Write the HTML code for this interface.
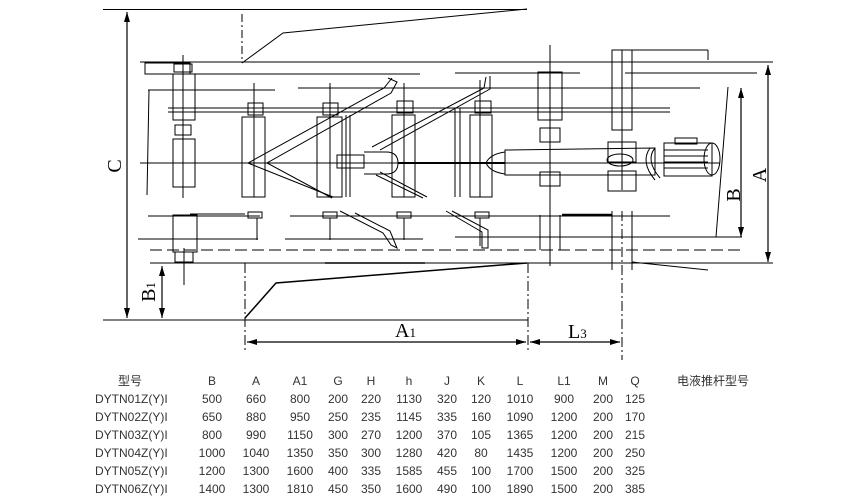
<!DOCTYPE html>
<html><head><meta charset="utf-8"><style>
body{margin:0;background:#fff;width:865px;height:496px;overflow:hidden;font-family:"Liberation Sans","Noto Sans CJK SC",sans-serif}
svg{position:absolute;left:0;top:0}
.t{font-size:12px;fill:#333}
</style></head><body>
<svg width="865" height="496" viewBox="0 0 865 496">
<defs><marker id="ar" markerWidth="10" markerHeight="6" refX="10" refY="3" orient="auto-start-reverse" markerUnits="userSpaceOnUse"><path d="M0,0 L10,3 L0,6z" fill="#000"/></marker></defs>
<g stroke="#000" stroke-width="1" fill="none">
<line x1="103" y1="9.5" x2="527" y2="9.5"/>
<polyline points="242,63 283,33 527,9"/>
<line x1="242" y1="14" x2="242" y2="63" stroke-dasharray="8,3,2,3"/>
<line x1="103" y1="320" x2="528" y2="320"/>
<polyline points="245,318 276,283 527,263" stroke-width="1.5"/>
<line x1="150" y1="263" x2="773" y2="263"/>
<line x1="140" y1="62" x2="773" y2="62"/>
<rect x="145" y="63" width="45" height="11"/>
<line x1="190" y1="74" x2="287" y2="74"/><line x1="280" y1="74" x2="420" y2="74"/>
<line x1="455" y1="73" x2="580" y2="73"/><line x1="625" y1="73" x2="757" y2="73"/>
<line x1="148" y1="90" x2="275" y2="90"/><line x1="298" y1="88" x2="700" y2="88"/>
<line x1="168" y1="108" x2="670" y2="108"/><line x1="168" y1="112" x2="670" y2="112"/>
<line x1="140" y1="163" x2="720" y2="163"/>
<line x1="148" y1="216" x2="260" y2="216"/><line x1="290" y1="216" x2="400" y2="216"/>
<line x1="400" y1="216" x2="670" y2="216"/><line x1="190" y1="214" x2="245" y2="214"/>
<line x1="138" y1="239" x2="258" y2="239"/><line x1="285" y1="239" x2="423" y2="239"/><line x1="455" y1="237" x2="742" y2="237"/>
<line x1="150" y1="250" x2="745" y2="250" stroke-dasharray="12,5"/>
<line x1="150" y1="263" x2="300" y2="263"/><line x1="325" y1="263" x2="425" y2="263" stroke-width="1.5"/>
<rect x="173" y="74" width="22" height="46"/><rect x="173" y="139" width="22" height="48"/>
<rect x="174" y="64" width="18" height="8"/><rect x="175" y="125" width="16" height="10"/>
<rect x="173" y="215" width="24" height="37"/><rect x="175" y="252" width="18" height="10"/>
<line x1="183" y1="55" x2="183" y2="198"/><line x1="184" y1="248" x2="184" y2="285"/>
<line x1="149" y1="90" x2="147" y2="195"/>
<g>
<rect x="242" y="117" width="23" height="80"/><rect x="248" y="103" width="15" height="12"/>
<rect x="317" y="117" width="25" height="80"/><rect x="323" y="103" width="15" height="12"/>
<rect x="392" y="115" width="23" height="82"/><rect x="397" y="101" width="16" height="12"/>
<rect x="470" y="115" width="22" height="82"/><rect x="475" y="101" width="16" height="12"/>
<line x1="254" y1="83" x2="254" y2="197"/><line x1="330" y1="83" x2="330" y2="197"/>
<line x1="404" y1="83" x2="404" y2="197"/><line x1="480" y1="80" x2="480" y2="197"/>
<line x1="346" y1="115" x2="346" y2="197"/><line x1="350" y1="115" x2="350" y2="197"/>
<line x1="455" y1="108" x2="455" y2="197"/><line x1="460" y1="108" x2="460" y2="197"/>
</g>
<g>
<rect x="248" y="212" width="14" height="6"/><line x1="257" y1="218" x2="257" y2="240"/>
<rect x="323" y="212" width="14" height="6"/><line x1="330" y1="218" x2="330" y2="240"/>
<rect x="397" y="212" width="14" height="6"/><line x1="404" y1="218" x2="404" y2="240"/>
<rect x="475" y="212" width="14" height="6"/><line x1="480" y1="218" x2="480" y2="246"/>
</g>
<polyline points="392,78 384,88 248,163 333,197"/>
<polyline points="388,78 397,82 391,93 267,163 332,198"/>
<polyline points="486,77 484,88 372,147"/><polyline points="490,76 490,89 380,150"/>
<polyline points="380,172 427,197"/><polyline points="376,175 423,198"/>
<polyline points="340,211 383,233 391,245 397,248 390,231 355,213"/>
<polyline points="446,211 482,232 482,248 488,248 488,230 452,211"/>
<rect x="337" y="155" width="27" height="13"/>
<path d="M364,152 H386 Q398,152 398,163 Q398,174 386,174 H364"/>
<line x1="398" y1="163" x2="505" y2="163" stroke-width="2"/>
<rect x="538" y="72" width="24" height="48"/><line x1="550" y1="45" x2="550" y2="266"/>
<rect x="540" y="128" width="20" height="14"/><rect x="540" y="172" width="20" height="14"/>
<rect x="612" y="50" width="20" height="80"/><line x1="622" y1="50" x2="622" y2="190"/>
<rect x="608" y="142" width="28" height="20"/>
<rect x="608" y="171" width="28" height="20"/>
<line x1="612" y1="211" x2="612" y2="270"/><line x1="632" y1="211" x2="632" y2="270"/>
<line x1="622" y1="211" x2="622" y2="360" stroke-dasharray="10,3,2,3"/>
<line x1="540" y1="215" x2="540" y2="250"/><line x1="560" y1="215" x2="560" y2="250"/>
<line x1="562" y1="215" x2="612" y2="215" stroke-width="2.5"/>
<line x1="632" y1="50" x2="708" y2="50"/><line x1="708" y1="50" x2="708" y2="60"/>
<line x1="632" y1="262" x2="708" y2="270"/>
<path d="M505,150 L655,148 L655,175 L505,175 Z"/>
<path d="M486,163 Q490,154 505,152 L505,174 Q490,172 486,163Z"/>
<ellipse cx="620" cy="160" rx="13" ry="6"/>
<rect x="664" y="143" width="48" height="33"/><ellipse cx="712" cy="159" rx="8" ry="16"/>
<rect x="675" y="138" width="22" height="6"/>
<line x1="664" y1="150" x2="708" y2="150"/><line x1="664" y1="156" x2="708" y2="156"/><line x1="664" y1="162" x2="708" y2="162"/><line x1="664" y1="168" x2="708" y2="168"/>
<path d="M655,148 Q645,160 660,178"/><path d="M650,148 Q640,162 655,180"/>
<line x1="728" y1="87" x2="716" y2="237"/>
<line x1="127" y1="12" x2="127" y2="318" marker-start="url(#ar)" marker-end="url(#ar)" stroke-width="1.2"/>
<line x1="162" y1="266" x2="162" y2="318" marker-start="url(#ar)" marker-end="url(#ar)" stroke-width="1.2"/>
<line x1="741" y1="88" x2="741" y2="237" marker-start="url(#ar)" marker-end="url(#ar)" stroke-width="1.2"/>
<line x1="768" y1="65" x2="768" y2="262" marker-start="url(#ar)" marker-end="url(#ar)" stroke-width="1.2"/>
<line x1="245" y1="263" x2="245" y2="352" stroke-dasharray="10,3,2,3"/>
<line x1="528" y1="263" x2="528" y2="352" stroke-dasharray="10,3,2,3"/>
<line x1="247" y1="342" x2="526" y2="342" marker-start="url(#ar)" marker-end="url(#ar)" stroke-width="1.2"/>
<line x1="530" y1="342" x2="620" y2="342" marker-start="url(#ar)" marker-end="url(#ar)" stroke-width="1.2"/>
</g>
<g font-family="Liberation Serif,serif" font-size="20" fill="#000">
<text transform="translate(121,166) rotate(-90)" text-anchor="middle">C</text>
<text transform="translate(155,292) rotate(-90)" text-anchor="middle">B<tspan font-size="13">1</tspan></text>
<text transform="translate(740,195) rotate(-90)" text-anchor="middle">B</text>
<text transform="translate(766,175) rotate(-90)" text-anchor="middle">A</text>
<text x="395" y="337">A<tspan font-size="13">1</tspan></text>
<text x="568" y="338">L<tspan font-size="13">3</tspan></text>
</g>
<g class="t" text-anchor="middle">
<text x="130" y="385">型号</text><text x="212" y="385">B</text><text x="256" y="385">A</text><text x="300" y="385">A1</text><text x="338" y="385">G</text><text x="371" y="385">H</text><text x="409" y="385">h</text><text x="447" y="385">J</text><text x="481" y="385">K</text><text x="520" y="385">L</text><text x="564" y="385">L1</text><text x="603" y="385">M</text><text x="635" y="385">Q</text><text x="713" y="385">电液推杆型号</text>
</g>
<g class="t">
<text x="95" y="403">DYTN01Z(Y)I</text><text x="95" y="421">DYTN02Z(Y)I</text><text x="95" y="439">DYTN03Z(Y)I</text><text x="95" y="457">DYTN04Z(Y)I</text><text x="95" y="475">DYTN05Z(Y)I</text><text x="95" y="493">DYTN06Z(Y)I</text>
</g>
<g class="t" text-anchor="middle">
<text y="403"><tspan x="212">500</tspan><tspan x="256">660</tspan><tspan x="300">800</tspan><tspan x="338">200</tspan><tspan x="371">220</tspan><tspan x="409">1130</tspan><tspan x="447">320</tspan><tspan x="481">120</tspan><tspan x="520">1010</tspan><tspan x="564">900</tspan><tspan x="603">200</tspan><tspan x="635">125</tspan></text>
<text y="421"><tspan x="212">650</tspan><tspan x="256">880</tspan><tspan x="300">950</tspan><tspan x="338">250</tspan><tspan x="371">235</tspan><tspan x="409">1145</tspan><tspan x="447">335</tspan><tspan x="481">160</tspan><tspan x="520">1090</tspan><tspan x="564">1200</tspan><tspan x="603">200</tspan><tspan x="635">170</tspan></text>
<text y="439"><tspan x="212">800</tspan><tspan x="256">990</tspan><tspan x="300">1150</tspan><tspan x="338">300</tspan><tspan x="371">270</tspan><tspan x="409">1200</tspan><tspan x="447">370</tspan><tspan x="481">105</tspan><tspan x="520">1365</tspan><tspan x="564">1200</tspan><tspan x="603">200</tspan><tspan x="635">215</tspan></text>
<text y="457"><tspan x="212">1000</tspan><tspan x="256">1040</tspan><tspan x="300">1350</tspan><tspan x="338">350</tspan><tspan x="371">300</tspan><tspan x="409">1280</tspan><tspan x="447">420</tspan><tspan x="481">80</tspan><tspan x="520">1435</tspan><tspan x="564">1200</tspan><tspan x="603">200</tspan><tspan x="635">250</tspan></text>
<text y="475"><tspan x="212">1200</tspan><tspan x="256">1300</tspan><tspan x="300">1600</tspan><tspan x="338">400</tspan><tspan x="371">335</tspan><tspan x="409">1585</tspan><tspan x="447">455</tspan><tspan x="481">100</tspan><tspan x="520">1700</tspan><tspan x="564">1500</tspan><tspan x="603">200</tspan><tspan x="635">325</tspan></text>
<text y="493"><tspan x="212">1400</tspan><tspan x="256">1300</tspan><tspan x="300">1810</tspan><tspan x="338">450</tspan><tspan x="371">350</tspan><tspan x="409">1600</tspan><tspan x="447">490</tspan><tspan x="481">100</tspan><tspan x="520">1890</tspan><tspan x="564">1500</tspan><tspan x="603">200</tspan><tspan x="635">385</tspan></text>
</g>
</svg>
</body></html>
